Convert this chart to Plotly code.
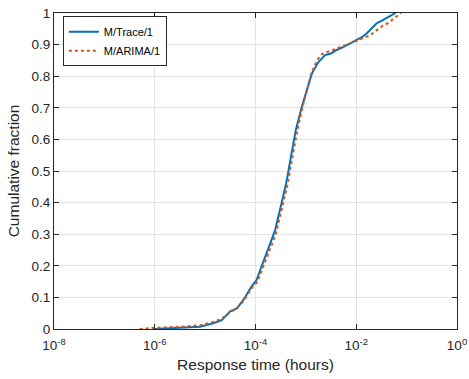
import plotly.graph_objects as go

# Traced values (log10 of response time in hours, cumulative fraction)
trace_log_t = [-6.0, -5.5, -5.1, -4.84, -4.67, -4.51, -4.37, -4.24, -4.08, -3.98, -3.88, -3.69,
               -3.61, -3.45, -3.38, -3.32, -3.20, -3.08, -2.98, -2.88, -2.75, -2.62,
               -2.5, -2.39, -2.25, -2.12, -1.99, -1.87, -1.79, -1.66, -1.59, -1.5, -1.4, -1.3, -1.22]
trace_cdf = [0.0, 0.003, 0.007, 0.018, 0.028, 0.055, 0.065, 0.092, 0.134, 0.155, 0.197, 0.28,
             0.313, 0.42, 0.47, 0.524, 0.63, 0.703, 0.76, 0.809, 0.845, 0.867,
             0.872, 0.883, 0.893, 0.904, 0.915, 0.925, 0.936, 0.955, 0.968, 0.975, 0.984, 0.992, 1.0]

arima_log_t = [-6.3, -6.0, -5.5, -5.1, -4.84, -4.67, -4.5, -4.36, -4.23, -4.07, -3.96, -3.86, -3.67,
               -3.59, -3.43, -3.36, -3.30, -3.18, -3.07, -2.98, -2.89, -2.78, -2.68,
               -2.55, -2.45, -2.3, -2.15, -1.99, -1.87, -1.72, -1.6, -1.47, -1.37, -1.25, -1.11]
arima_cdf = [0.0, 0.004, 0.007, 0.012, 0.022, 0.033, 0.052, 0.068, 0.09, 0.13, 0.15, 0.19, 0.27,
             0.305, 0.41, 0.46, 0.515, 0.62, 0.70, 0.76, 0.81, 0.85, 0.87,
             0.878, 0.885, 0.893, 0.902, 0.913, 0.92, 0.93, 0.945, 0.96, 0.968, 0.984, 1.0]

x_tick_exp = [-8, -6, -4, -2, 0]
y_ticks = [0, 0.1, 0.2, 0.3, 0.4, 0.5, 0.6, 0.7, 0.8, 0.9, 1]

BLUE = "#0072BD"
ORANGE = "#D95319"
AX = "#262626"
FONT = "Liberation Sans, Arial, Helvetica, sans-serif"

fig = go.Figure()
fig.add_trace(go.Scatter(x=[10 ** v for v in trace_log_t], y=trace_cdf, mode="lines",
                         name="M/Trace/1", line=dict(color=BLUE, width=2)))
fig.add_trace(go.Scatter(x=[10 ** v for v in arima_log_t], y=arima_cdf, mode="lines",
                         name="M/ARIMA/1", line=dict(color=ORANGE, width=2, dash="dot")))

fig.update_layout(
    width=469, height=379,
    margin=dict(l=54, r=12, t=13, b=50),
    paper_bgcolor="white", plot_bgcolor="white",
    font=dict(family=FONT, color=AX, size=13),
    showlegend=True,
    legend=dict(x=0.022, y=0.99, xanchor="left", yanchor="top",
                bgcolor="white", bordercolor=AX, borderwidth=1,
                font=dict(size=11, color="black"), tracegroupgap=0),
)
fig.update_xaxes(
    type="log", range=[-8, 0], automargin=False,
    tickvals=[10 ** e for e in x_tick_exp],
    ticktext=["10<sup>%d</sup>" % e for e in x_tick_exp],
    ticks="inside", ticklen=5, tickcolor=AX, mirror="allticks",
    showline=True, linecolor=AX, linewidth=1,
    showgrid=True, gridcolor="#e3e3e3", zeroline=False,
    ticklabelstandoff=4,
    title=dict(text="Response time (hours)", font=dict(size=15.5, color=AX), standoff=6),
    tickfont=dict(size=13.5, color=AX),
)
fig.update_yaxes(
    range=[0, 1], tickvals=y_ticks, ticktext=[("%g" % v) for v in y_ticks], automargin=False,
    ticks="inside", ticklen=5, tickcolor=AX, mirror="allticks",
    showline=True, linecolor=AX, linewidth=1,
    showgrid=True, gridcolor="#e3e3e3", zeroline=False,
    title=dict(text="Cumulative fraction", font=dict(size=15.5, color=AX), standoff=8),
    tickfont=dict(size=13.5, color=AX),
)

fig.write_html("out.html")
